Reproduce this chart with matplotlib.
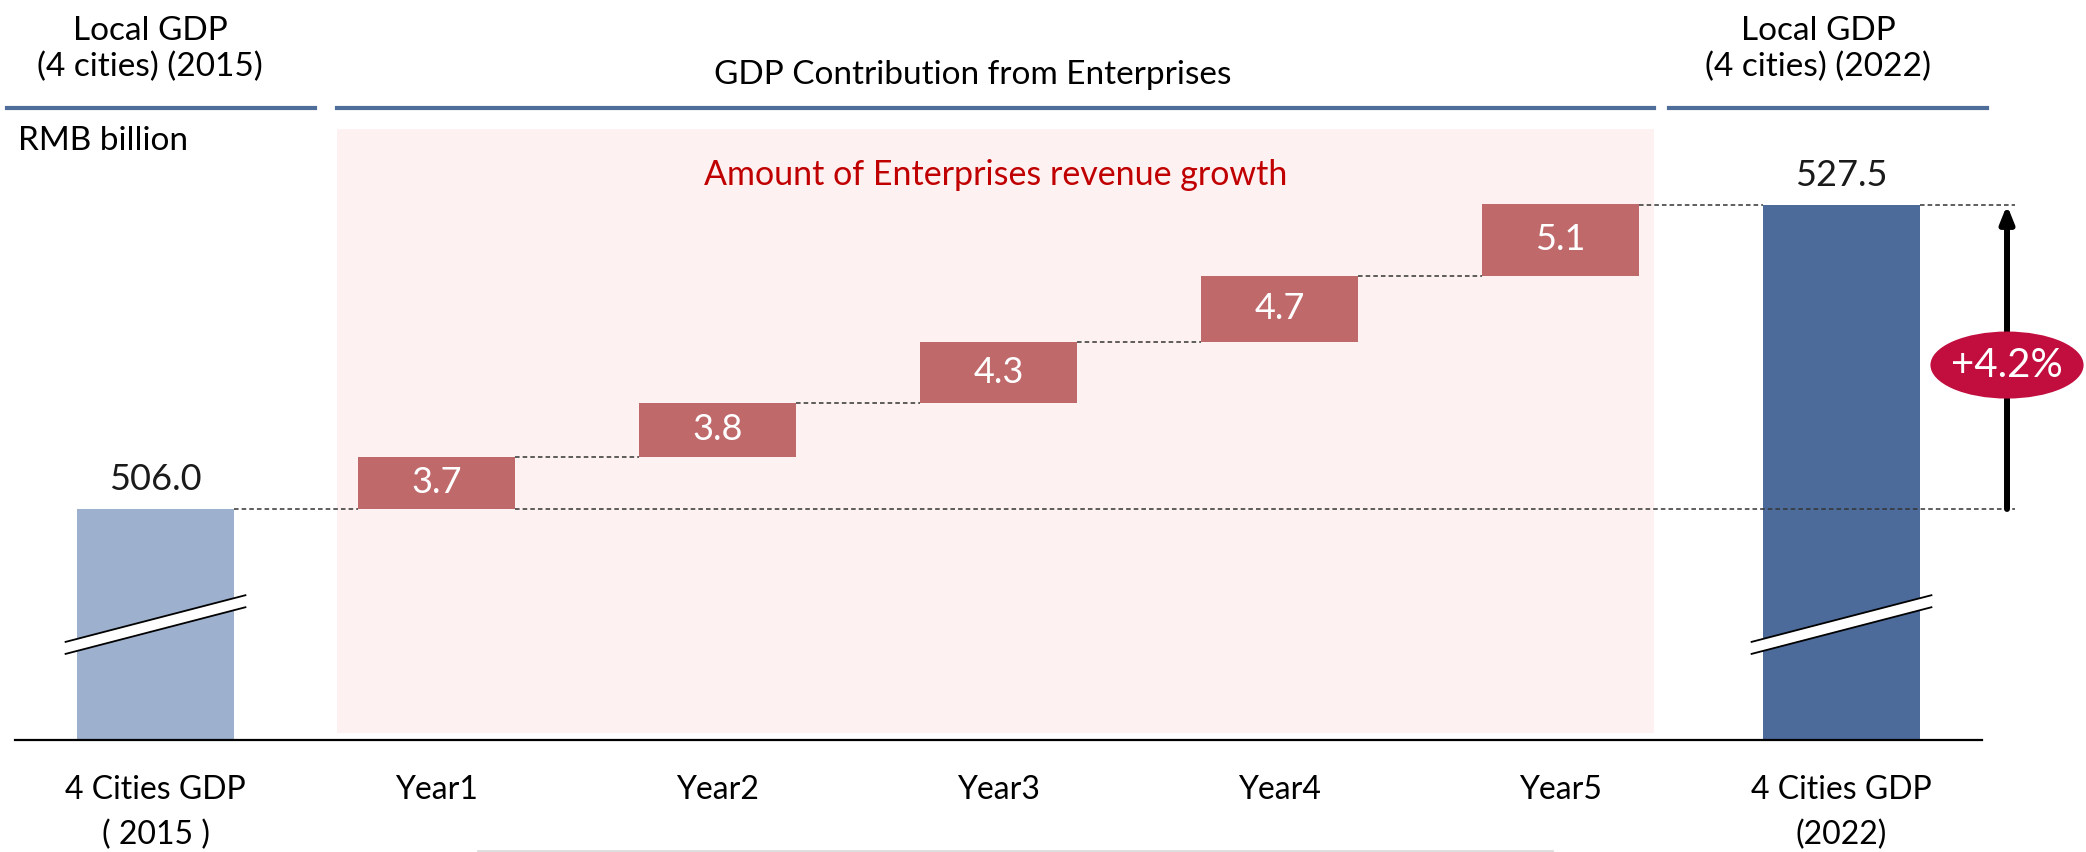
"""Waterfall of local GDP growth driven by enterprise contribution."""

import matplotlib.pyplot as plt
import numpy as np
from matplotlib.lines import Line2D
from matplotlib.patches import Ellipse, Polygon, Rectangle

plt.rcParams["font.family"] = ["Lato", "DejaVu Sans"]

# data
categories = [
    "4 Cities GDP\n( 2015 )",
    "Year1",
    "Year2",
    "Year3",
    "Year4",
    "Year5",
    "4 Cities GDP\n(2022)",
]
gdp_start = 506.0
gdp_end = 527.5
growth = [3.7, 3.8, 4.3, 4.7, 5.1]
growth_rate = "+4.2%"
unit_label = "RMB billion"
header_left = ["Local GDP", "(4 cities) (2015)"]
header_mid = "GDP Contribution from Enterprises"
header_right = ["Local GDP", "(4 cities) (2022)"]
band_title = "Amount of Enterprises revenue growth"

W, H = 2086, 852
C_START = "#9DB0CE"
C_END = "#4C6B9A"
C_STEP = "#C0696B"
C_BAND = "#FEF1F1"
C_HEAD = "#4F6D99"
C_BADGE = "#C20E3F"
DASH = dict(color="#333333", lw=1.1, ls=(0, (3, 2)))

fig = plt.figure(figsize=(W / 100, H / 100), dpi=100)
ax = fig.add_axes([15 / W, (H - 740) / H, 1967 / W, 740 / H])
ax.set_xlim(-0.5, 6.5)
ax.set_ylim(489.66, 542.0)

x = np.arange(len(categories))
bw = 0.56
step_x = x[1:-1]
tops = gdp_start + np.cumsum(growth)
bottoms = tops - np.array(growth)

# shaded band behind the yearly steps
ax.add_patch(Rectangle((0.646, 490.15), 5.333 - 0.646, 532.9 - 490.15,
                       facecolor=C_BAND, edgecolor="none", zorder=0))

ax.bar(x[0], gdp_start, width=bw, color=C_START, zorder=2)
ax.bar(x[-1], gdp_end, width=bw, color=C_END, zorder=2)
ax.bar(step_x, growth, bottom=bottoms, width=bw, color=C_STEP, zorder=2)

for xi, g, b in zip(step_x, growth, bottoms):
    ax.text(xi, b + g / 2, f"{g:.1f}", color="white", fontsize=26,
            ha="center", va="center", zorder=4)

for xi, v in [(x[0], gdp_start), (x[-1], gdp_end)]:
    ax.annotate(f"{v:.1f}", (xi, v), xytext=(0, 21), textcoords="offset points",
                ha="center", va="center", fontsize=26, color="#1a1a1a")

# dashed connectors
arrow_x = 6.589
ax.plot([x[0] + bw / 2, step_x[0] - bw / 2], [gdp_start] * 2, zorder=1, **DASH)
ax.plot([step_x[0] + bw / 2, arrow_x + 0.03], [gdp_start] * 2, zorder=3,
        clip_on=False, **DASH)
for i in range(len(growth) - 1):
    ax.plot([step_x[i] + bw / 2, step_x[i + 1] - bw / 2], [tops[i]] * 2,
            zorder=1, **DASH)
ax.plot([step_x[-1] + bw / 2, x[-1] - bw / 2], [gdp_end] * 2, zorder=1, **DASH)
ax.plot([x[-1] + bw / 2, arrow_x + 0.03], [gdp_end] * 2, zorder=1,
        clip_on=False, **DASH)

# axis break marks on the two totals
for xc in (x[0], x[-1]):
    xs = [xc - 0.32, xc + 0.32]
    upper = [496.6, 499.9]
    lower = [u - 0.85 for u in upper]
    ax.add_patch(Polygon([(xs[0], upper[0]), (xs[1], upper[1]),
                          (xs[1], lower[1]), (xs[0], lower[0])],
                         facecolor="white", edgecolor="none", zorder=3))
    ax.plot(xs, upper, color="black", lw=1.3, zorder=3)
    ax.plot(xs, lower, color="black", lw=1.3, zorder=3)

# growth arrow with badge
ax.annotate("", xy=(arrow_x, gdp_end), xytext=(arrow_x, gdp_start),
            arrowprops=dict(arrowstyle="-|>,head_length=0.5,head_width=0.2",
                            lw=4.3, color="black", mutation_scale=20,
                            shrinkA=0, shrinkB=0),
            annotation_clip=False, zorder=4)
ax.add_patch(Ellipse((arrow_x, 516.18), 0.545, 4.74, facecolor=C_BADGE,
                     edgecolor="none", clip_on=False, zorder=5))
ax.text(arrow_x, 516.18, growth_rate, color="white", fontsize=29,
        ha="center", va="center", zorder=6, clip_on=False)

ax.text(2.99, 528.9, band_title, color="#C00000", fontsize=24.5,
        ha="center", va="baseline", zorder=1)

ax.set_xticks(x, categories, fontsize=23)
for lbl in ax.get_xticklabels():
    lbl.set_linespacing(1.62)
ax.tick_params(axis="x", length=0, pad=25)
ax.set_yticks([])
for side in ("left", "right", "top"):
    ax.spines[side].set_visible(False)
ax.spines["bottom"].set_linewidth(1.6)
ax.spines["bottom"].set_color("black")
ax.patch.set_visible(False)

# section headers above the chart
for x0, x1 in [(7, 315), (337, 1654), (1669, 1987)]:
    fig.add_artist(Line2D([x0 / W, x1 / W], [1 - 108 / H] * 2,
                          color=C_HEAD, lw=3))
for xc, lines in [(150, header_left), (1818, header_right)]:
    for base, line in zip((40, 76), lines):
        fig.text(xc / W, 1 - base / H, line, ha="center", va="baseline",
                 fontsize=24)
fig.text(973 / W, 1 - 84 / H, header_mid, ha="center", va="baseline",
         fontsize=24)
fig.text(18 / W, 1 - 150 / H, unit_label, ha="left", va="baseline",
         fontsize=24)

fig.add_artist(Line2D([478 / W, 1552 / W], [1.5 / H] * 2, color="#dddddd", lw=2))

fig.savefig("out.png", dpi=100)
